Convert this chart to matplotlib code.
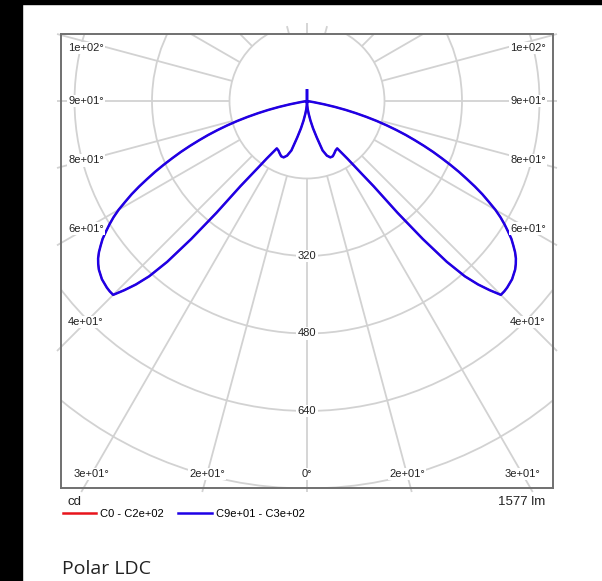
"""Polar LDC - light distribution curve drawn on a cartesian axes."""

import numpy as np
import matplotlib
matplotlib.use("Agg")
import matplotlib.pyplot as plt
from matplotlib.patches import Circle, Rectangle
from matplotlib.lines import Line2D

# Data: gamma angle from nadir (deg) and luminous intensity (cd).
gamma = [0, 2.5, 5, 7.5, 10, 12.5, 15, 17.5, 20, 22.5, 25, 27.5, 30, 32.5,
         35, 36, 37, 38, 39, 40, 41, 42, 43, 44, 45, 46, 47, 48, 49, 50,
         51, 52, 53, 54, 55, 56, 57, 58, 59, 60, 61, 62, 63, 64, 65, 66,
         67, 68, 69, 70, 71, 72, 73, 74, 75, 76, 77, 78, 79, 80, 81, 85,
         90, 175, 180]
i_c90_c270 = [2, 8, 17, 27, 41, 58, 78, 107, 120, 126, 126, 122, 118, 116,
              145, 165, 190, 223, 297, 372, 440, 487, 518, 543, 566, 566,
              565, 563, 561, 557, 553, 547, 540, 531, 520, 509, 495, 481,
              466, 449, 429, 410, 389, 367, 346, 324, 302, 281, 259, 237,
              216, 194, 172, 150, 127, 104, 82, 59, 36, 14, 0, 0,
              0, 0, 22]
# C0 - C180 lies exactly under the C90 - C270 curve in the picture.
i_c0_c180 = list(i_c90_c270)

ring_values = [160, 320, 480, 640, 800, 960]
ring_labels = [320, 480, 640]
angle_ticks = [0, 15, 30, 45, 60, 75, 90, 105]
ray_step = 15
lumens = 1577

# Plot window in cd units (center of the diagram at 0, 0).
x_half = 507.9
y_top = 138.3
y_bot = -799.0
px_per_cd = 77.5 / 160
ext = 4 / px_per_cd          # rays stick out a little past the frame
inset_x = 25 / px_per_cd     # label inset from the side frame
inset_y = 14 / px_per_cd     # label inset from the bottom frame

GRID = "#d2d2d2"
BLUE = "#1e00e6"
RED = "#e8141c"
TXT = "#222222"
plt.rcParams["font.family"] = ["Liberation Sans", "DejaVu Sans"]


def fmt_angle(a):
    return "0" if a == 0 else f"{a:.0e}"


W, H = 602, 581
fig = plt.figure(figsize=(W / 100, H / 100), dpi=100)
fig.patch.set_facecolor("white")
fig.add_artist(Rectangle((0, 0), 22 / W, 1, transform=fig.transFigure,
                         color="black", zorder=0))
fig.add_artist(Rectangle((0, 1 - 4 / H), 1, 4 / H, transform=fig.transFigure,
                         color="black", zorder=0))

ax = fig.add_axes([61 / W, 93 / H, 492 / W, 454 / H])
ax.set_xlim(-x_half, x_half)
ax.set_ylim(y_bot, y_top)
ax.set_xticks([])
ax.set_yticks([])
for sp in ax.spines.values():
    sp.set_color("#707070")
    sp.set_linewidth(1.4)
    sp.set_zorder(10)

# Rings.
for r in ring_values:
    ax.add_patch(Circle((0, 0), r, fill=False, ec=GRID, lw=1.3, zorder=1))

# Rays every 15 deg, from the first ring outwards.
for a in range(0, 360, ray_step):
    dx, dy = np.sin(np.radians(a)), -np.cos(np.radians(a))
    ts = []
    if abs(dx) > 1e-9:
        ts.append((x_half + ext) / abs(dx))
    if dy < -1e-9:
        ts.append((y_bot - ext) / dy)
    elif dy > 1e-9:
        ts.append(y_top / dy)
    t = min(ts)
    ax.plot([ring_values[0] * dx, t * dx], [ring_values[0] * dy, t * dy],
            color=GRID, lw=1.3, zorder=1, clip_on=False,
            solid_capstyle="butt")

# Angle labels where the rays meet the frame.
box = dict(facecolor="white", edgecolor="none", pad=1.0)
for a in angle_ticks:
    for side in ([1] if a == 0 else [-1, 1]):
        dx, dy = side * np.sin(np.radians(a)), -np.cos(np.radians(a))
        t_side = x_half / abs(dx) if abs(dx) > 1e-9 else np.inf
        t_bot = y_bot / dy if dy < -1e-9 else np.inf
        if t_bot < t_side:
            t = (y_bot + inset_y) / dy
            x, y = t * dx, y_bot + inset_y
            x = np.clip(x, -x_half + inset_x, x_half - inset_x)
        else:
            t = (x_half - inset_x) / abs(dx)
            x, y = t * dx, t * dy
            y = min(y, y_top - inset_y)
        ax.text(x, y, fmt_angle(a) + "°", ha="center", va="center",
                fontsize=8, color=TXT, bbox=box, zorder=6)

for r in ring_labels:
    ax.text(0, -r, str(r), ha="center", va="center", fontsize=8,
            color=TXT, bbox=box, zorder=6)


def full_path(vals):
    g = np.radians(np.array(gamma))
    v = np.array(vals, dtype=float)
    # one half on the left (gamma 180 -> 0), the other half on the right
    xs = np.concatenate([-(v * np.sin(g))[::-1], (v * np.sin(g))[1:]])
    ys = np.concatenate([-(v * np.cos(g))[::-1], -(v * np.cos(g))[1:]])
    return xs, ys


xr, yr = full_path(i_c0_c180)
ax.plot(xr, yr, color=RED, lw=1.2, zorder=3)
xb, yb = full_path(i_c90_c270)
ax.plot(xb, yb, color=BLUE, lw=1.8, zorder=4, solid_joinstyle="round")

# Texts under the frame.
fig.text(67 / W, 1 - 502 / H, "cd", ha="left", va="center", fontsize=9.5,
         color=TXT)
fig.text(545 / W, 1 - 502 / H, f"{lumens} lm", ha="right", va="center",
         fontsize=9.5, color=TXT)

handles = [Line2D([], [], color=RED, lw=1.8),
           Line2D([], [], color=BLUE, lw=1.8)]
labels = [f"C0 - C{fmt_angle(180)}", f"C{fmt_angle(90)} - C{fmt_angle(270)}"]
fig.legend(handles, labels, loc="center left",
           bbox_to_anchor=(63 / W, 1 - 514 / H), ncol=2, frameon=False,
           fontsize=8, handlelength=3.0, handletextpad=0.35,
           columnspacing=1.3, borderpad=0, borderaxespad=0)

fig.text(62 / W, 1 - 569 / H, "Polar LDC", ha="left", va="center",
         fontsize=14, color="#222222", family=["Open Sans", "DejaVu Sans"])

fig.savefig("out.png", dpi=100)
